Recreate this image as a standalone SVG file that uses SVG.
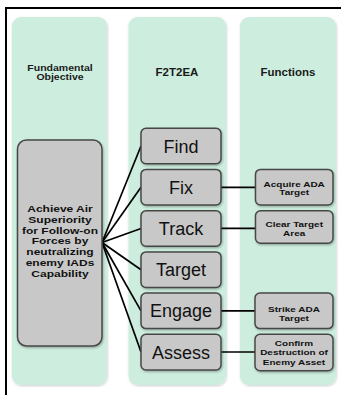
<svg xmlns="http://www.w3.org/2000/svg" width="341" height="395" viewBox="0 0 341 395">
  <defs>
    <filter id="shadow" x="-10%" y="-10%" width="130%" height="130%">
      <feDropShadow dx="0.8" dy="1.2" stdDeviation="0.9" flood-color="#000" flood-opacity="0.3"/>
    </filter>
    <filter id="colShadow" x="-10%" y="-5%" width="130%" height="115%">
      <feDropShadow dx="0.6" dy="1" stdDeviation="1" flood-color="#000" flood-opacity="0.2"/>
    </filter>
  </defs>
  <style>
    .col { fill: #cdeedf; filter: url(#colShadow); }
    .box { fill: #c8c8c8; stroke: #474747; stroke-width: 1.5; filter: url(#shadow); }
    .hdr { font-family: "Liberation Sans", Arial, sans-serif; font-weight: bold; fill: #1a1a1a; text-anchor: middle; }
    .step { font-family: "Liberation Sans", Arial, sans-serif; font-size: 18px; fill: #111; text-anchor: middle; }
    .obj { font-family: "Liberation Sans", Arial, sans-serif; font-size: 12px; font-weight: bold; fill: #111; text-anchor: middle; }
    .fn { font-family: "Liberation Sans", Arial, sans-serif; font-size: 10px; font-weight: bold; fill: #111; text-anchor: middle; }
    .link { stroke: #000; stroke-width: 1.7; fill: none; }
  </style>

  <rect width="341" height="395" fill="#fff"/>
  <!-- outer frame -->
  <path d="M6,395 V8 H341" fill="none" stroke="#000" stroke-width="2"/>

  <!-- column backgrounds -->
  <g id="columns">
    <rect class="col" x="12" y="17" width="95" height="368" rx="9"/>
    <rect class="col" x="128.5" y="17" width="97.5" height="368" rx="9"/>
    <rect class="col" x="240" y="17" width="96" height="368" rx="9"/>
  </g>

  <!-- column headers (wide, flattened lettering) -->
  <g id="headers">
    <text class="hdr" font-size="10.5" transform="translate(60,70.7) scale(1,0.8)">Fundamental</text>
    <text class="hdr" font-size="10.5" transform="translate(60,80.3) scale(1,0.8)">Objective</text>
    <text class="hdr" font-size="11.5" transform="translate(177,76) scale(1,0.9)">F2T2EA</text>
    <text class="hdr" font-size="11.5" transform="translate(288,76) scale(1,0.9)">Functions</text>
  </g>

  <!-- connectors -->
  <g id="connectors">
    <path class="link" d="M102,242.5 L141,146"/>
    <path class="link" d="M102,242.5 L141,187.3"/>
    <path class="link" d="M102,242.5 L141,228.5"/>
    <path class="link" d="M102,242.5 L141,269.7"/>
    <path class="link" d="M102,242.5 L141,310.8"/>
    <path class="link" d="M102,242.5 L141,352"/>
    <path class="link" d="M221,187.3 H255.5"/>
    <path class="link" d="M221,228.3 H255.5"/>
    <path class="link" d="M221,310.8 H255.5"/>
    <path class="link" d="M221,352 H255.5"/>
  </g>

  <!-- fundamental objective -->
  <g id="objective">
    <rect class="box" x="17.5" y="140" width="84.5" height="206" rx="9"/>
    <text class="obj" transform="translate(60,211.7) scale(1,0.78)">Achieve Air</text>
    <text class="obj" transform="translate(60,222.6) scale(1,0.78)">Superiority</text>
    <text class="obj" transform="translate(60,233.5) scale(1,0.78)">for Follow-on</text>
    <text class="obj" transform="translate(60,244.4) scale(1,0.78)">Forces by</text>
    <text class="obj" transform="translate(60,255.3) scale(1,0.78)">neutralizing</text>
    <text class="obj" transform="translate(60,266.2) scale(1,0.78)">enemy IADs</text>
    <text class="obj" transform="translate(60,277.1) scale(1,0.78)">Capability</text>
  </g>

  <!-- F2T2EA steps -->
  <g id="find">
    <rect class="box" x="141" y="128.2" width="80" height="35.6" rx="5"/>
    <text class="step" x="181" y="152.5">Find</text>
  </g>
  <g id="fix">
    <rect class="box" x="141" y="169.4" width="80" height="35.6" rx="5"/>
    <text class="step" x="181" y="193.7">Fix</text>
  </g>
  <g id="track">
    <rect class="box" x="141" y="210.7" width="80" height="35.6" rx="5"/>
    <text class="step" x="181" y="235">Track</text>
  </g>
  <g id="target">
    <rect class="box" x="141" y="251.9" width="80" height="35.6" rx="5"/>
    <text class="step" x="181" y="276.2">Target</text>
  </g>
  <g id="engage">
    <rect class="box" x="141" y="293" width="80" height="35.6" rx="5"/>
    <text class="step" x="181" y="317.3">Engage</text>
  </g>
  <g id="assess">
    <rect class="box" x="141" y="334.2" width="80" height="35.8" rx="5"/>
    <text class="step" x="181" y="358.5">Assess</text>
  </g>

  <!-- functions -->
  <g id="acquire">
    <rect class="box" x="255.5" y="169.4" width="77.5" height="35.6" rx="5"/>
    <text class="fn" transform="translate(294.2,186.7) scale(1,0.78)">Acquire ADA</text>
    <text class="fn" transform="translate(294.2,195) scale(1,0.78)">Target</text>
  </g>
  <g id="clear">
    <rect class="box" x="255.5" y="210.7" width="77.5" height="32.5" rx="5"/>
    <text class="fn" transform="translate(294.2,227.3) scale(1,0.78)">Clear Target</text>
    <text class="fn" transform="translate(294.2,235.5) scale(1,0.78)">Area</text>
  </g>
  <g id="strike">
    <rect class="box" x="255" y="293" width="78" height="35.6" rx="5"/>
    <text class="fn" transform="translate(294,312.3) scale(1,0.78)">Strike ADA</text>
    <text class="fn" transform="translate(294,320.5) scale(1,0.78)">Target</text>
  </g>
  <g id="confirm">
    <rect class="box" x="255" y="334.2" width="78" height="36.5" rx="5"/>
    <text class="fn" transform="translate(294,346) scale(1,0.78)">Confirm</text>
    <text class="fn" transform="translate(294,355.4) scale(1,0.78)">Destruction of</text>
    <text class="fn" transform="translate(294,364.8) scale(1,0.78)">Enemy Asset</text>
  </g>
</svg>
